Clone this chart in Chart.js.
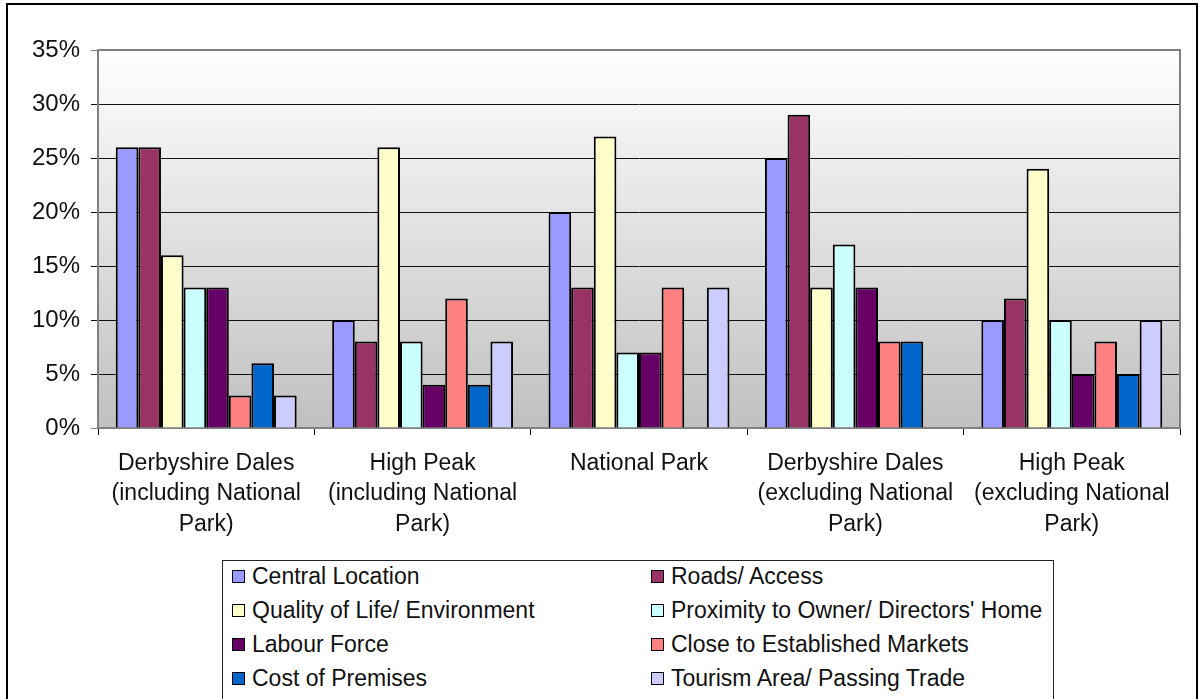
<!DOCTYPE html>
<html>
<head>
<meta charset="utf-8">
<script src="https://cdn.jsdelivr.net/npm/chart.js@4"></script>
<style>
  html, body { margin: 0; padding: 0; background: #fff; }
  #wrap { position: relative; width: 1202px; height: 699px; overflow: hidden; }
  #frame { position: absolute; left: 6px; top: 3px; width: 1188px; height: 720px; border: 2px solid #000; pointer-events: none; }
  #legend { position: absolute; left: 222px; top: 560px; width: 832px; height: 140px; border: 1px solid #222; background: #fff;
    display: grid; grid-template-columns: 419px 1fr; grid-auto-rows: 34px; padding-left: 9px; box-sizing: border-box;
    font: 23px 'Liberation Sans', Arial, sans-serif; color: #111; }
  #legend div { display: flex; align-items: center; margin-top: -4px; }
  #legend span.sw { display: inline-block; width: 11px; height: 11px; border: 1px solid #000; margin-right: 7px; }
</style>
</head>
<body>
<div id="wrap">
  <canvas id="myBarChart" width="1202" height="699"></canvas>
  <div id="legend"></div>
  <div id="frame"></div>
</div>
<script>
const categories = [
  ['Derbyshire Dales', '(including National', 'Park)'],
  ['High Peak', '(including National', 'Park)'],
  ['National Park'],
  ['Derbyshire Dales', '(excluding National', 'Park)'],
  ['High Peak', '(excluding National', 'Park)']
]
const seriesNames = [
  'Central Location', 'Roads/ Access',
  'Quality of Life/ Environment', "Proximity to Owner/ Directors' Home",
  'Labour Force', 'Close to Established Markets',
  'Cost of Premises', 'Tourism Area/ Passing Trade'
]
const centralLocation = [26, 10, 20, 25, 10]
const roadsAccess = [26, 8, 13, 29, 12]
const qualityOfLife = [16, 26, 27, 13, 24]
const proximityToHome = [13, 8, 7, 17, 10]
const labourForce = [13, 4, 7, 13, 5]
const closeToMarkets = [3, 12, 13, 8, 8]
const costOfPremises = [6, 4, null, 8, 5]
const tourismArea = [3, 8, 13, null, 10]
const yTicks = [0, 5, 10, 15, 20, 25, 30, 35]

const seriesValues = [centralLocation, roadsAccess, qualityOfLife, proximityToHome,
  labourForce, closeToMarkets, costOfPremises, tourismArea]
const seriesColors = ['#9999FF', '#993366', '#FFFFCC', '#CCFFFF', '#660066', '#FF8080', '#0066CC', '#CCCCFF']

const FONT = "'Liberation Sans', Arial, sans-serif"

// gradient plot background + gray frame on top/right
const plotBackground = {
  id: 'plotBackground',
  beforeDraw(chart) {
    const { ctx, chartArea: a } = chart
    const g = ctx.createLinearGradient(0, a.top, 0, a.bottom)
    g.addColorStop(0, '#ffffff')
    g.addColorStop(1, '#c0c0c0')
    ctx.save()
    ctx.fillStyle = g
    ctx.fillRect(a.left, a.top, a.right - a.left, a.bottom - a.top)
    ctx.restore()
  },
  afterDraw(chart) {
    const { ctx, chartArea: a } = chart
    ctx.save()
    ctx.strokeStyle = '#808080'
    ctx.lineWidth = 2
    ctx.beginPath()
    ctx.moveTo(a.left, a.top)
    ctx.lineTo(a.right, a.top)
    ctx.lineTo(a.right, a.bottom)
    ctx.stroke()
    ctx.restore()
  }
}

const ctx = document.getElementById('myBarChart')
const myBarChart = new Chart(ctx, {
  type: 'bar',
  data: {
    labels: categories,
    datasets: seriesNames.map((name, i) => ({
      label: name,
      data: seriesValues[i],
      backgroundColor: seriesColors[i],
      borderColor: '#000',
      borderWidth: 2,
      categoryPercentage: 0.836,
      barPercentage: 1.0
    }))
  },
  options: {
    responsive: false,
    animation: false,
    layout: { padding: { top: 50, right: 22, left: 0, bottom: 0 } },
    plugins: {
      legend: { display: false },
      tooltip: { enabled: false }
    },
    scales: {
      x: {
        offset: true,
        afterFit: s => { s.height = 271 },
        grid: {
          offset: true,
          drawOnChartArea: false,
          drawTicks: true,
          tickLength: 7,
          color: '#000'
        },
        border: { color: '#808080', width: 2 },
        ticks: {
          color: '#111',
          padding: 13,
          maxRotation: 0,
          autoSkip: false,
          font: { family: FONT, size: 23, lineHeight: 1.33 }
        }
      },
      y: {
        min: 0,
        max: 35,
        afterFit: s => { s.width = 98 },
        afterBuildTicks: s => { s.ticks = yTicks.map(v => ({ value: v })) },
        grid: {
          color: c => (c.tick && (c.tick.value === 35 || c.tick.value === 0)) ? '#808080' : '#111',
          lineWidth: 1,
          drawTicks: true,
          tickLength: 7
        },
        border: { color: '#808080', width: 2 },
        ticks: {
          color: '#111',
          padding: 11,
          font: { family: FONT, size: 24 },
          callback: v => v + '%'
        }
      }
    }
  },
  plugins: [plotBackground]
})

// legend in two columns, built from the chart's datasets
const legendEl = document.getElementById('legend')
myBarChart.data.datasets.forEach(ds => {
  const item = document.createElement('div')
  const sw = document.createElement('span')
  sw.className = 'sw'
  sw.style.background = ds.backgroundColor
  item.appendChild(sw)
  item.appendChild(document.createTextNode(ds.label))
  legendEl.appendChild(item)
})
</script>
</body>
</html>
